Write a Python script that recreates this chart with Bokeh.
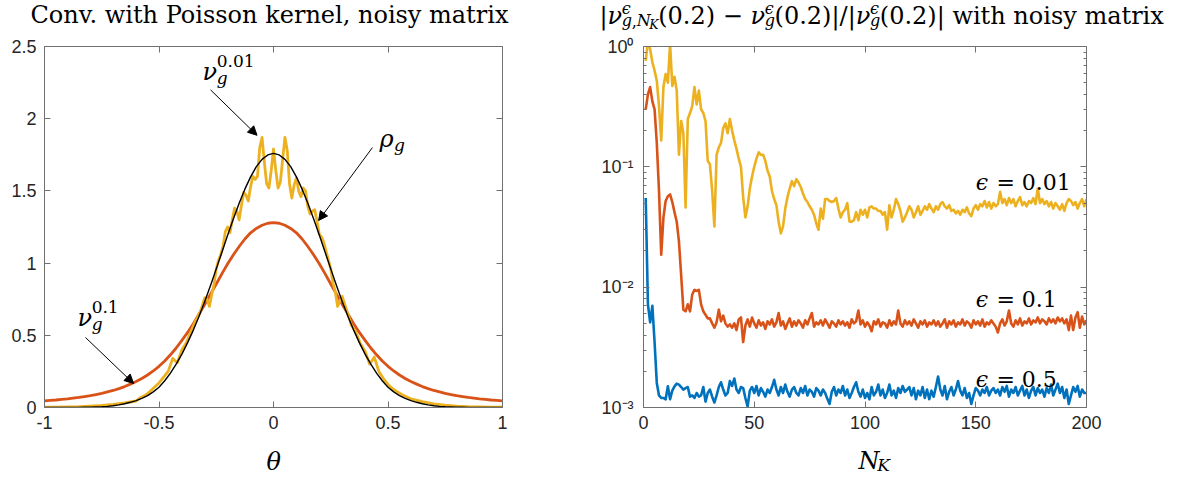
from bokeh.plotting import figure
from bokeh.layouts import row, column
from bokeh.models import (Range1d, LinearAxis, LogAxis, FixedTicker, Label, Arrow,
                          NormalHead, CustomJSTickFormatter)
from bokeh.embed import file_html
from bokeh.resources import INLINE

# ---------------- data: left panel ----------------
theta_half = [round(0.025 * i, 3) for i in range(41)]          # 0 .. 1
rho_half = [1.760, 1.749, 1.718, 1.668, 1.597, 1.512, 1.415, 1.307, 1.194, 1.077,
            0.960, 0.845, 0.735, 0.632, 0.536, 0.449, 0.370, 0.300, 0.238, 0.185,
            0.140, 0.108, 0.082, 0.063, 0.048, 0.036, 0.026, 0.018, 0.012, 0.008,
            0.005, 0.0035, 0.0023, 0.0015, 0.001, 0.0006, 0.0004, 0.0002, 0.0001,
            0.0001, 0.0]
nu01_half = [1.280, 1.276, 1.262, 1.240, 1.210, 1.167, 1.115, 1.058, 0.995, 0.927,
             0.855, 0.785, 0.715, 0.647, 0.580, 0.520, 0.465, 0.412, 0.365, 0.322,
             0.285, 0.253, 0.225, 0.201, 0.180, 0.162, 0.145, 0.131, 0.118, 0.108,
             0.098, 0.090, 0.082, 0.076, 0.070, 0.065, 0.060, 0.056, 0.052, 0.049,
             0.046]

theta_y = ([round(-1.0 + 0.05 * i, 3) for i in range(9)] +
           [round(-0.58 + 0.02 * i, 3) for i in range(14)] +
           [round(-0.30 + 0.01 * i, 3) for i in range(61)] +
           [round(0.32 + 0.02 * i, 3) for i in range(14)] +
           [round(0.60 + 0.05 * i, 3) for i in range(9)])
nu001 = [0.002, 0.003, 0.004, 0.006, 0.010, 0.015, 0.022, 0.032, 0.045,
         0.07, 0.085, 0.11, 0.14, 0.17, 0.21, 0.25, 0.34, 0.31, 0.40, 0.45, 0.53, 0.60, 0.66,
         0.76, 0.75, 0.70, 0.78, 0.85, 0.96, 1.02, 1.06, 1.12, 1.22,
         1.25, 1.21, 1.30, 1.38, 1.36, 1.30, 1.40, 1.49, 1.47, 1.43,
         1.53, 1.60, 1.58, 1.60, 1.80, 1.87, 1.70, 1.55, 1.52, 1.64,
         1.79,
         1.64, 1.52, 1.56, 1.72, 1.87, 1.78, 1.55, 1.45, 1.54, 1.59,
         1.50, 1.46, 1.52, 1.50, 1.39, 1.34, 1.36, 1.37, 1.29, 1.20,
         1.18, 1.14, 1.08, 1.02, 0.96, 0.86, 0.80, 0.70, 0.74, 0.77,
         0.67, 0.57, 0.52, 0.44, 0.39, 0.30, 0.35, 0.25, 0.20, 0.16, 0.13, 0.11, 0.09, 0.075,
         0.06, 0.040, 0.025, 0.016, 0.010, 0.006, 0.004, 0.003, 0.002]

x_ticks_l = [-1, -0.5, 0, 0.5, 1]
y_ticks_l = [0, 0.5, 1, 1.5, 2, 2.5]

# ---------------- data: right panel ----------------
NK = list(range(1, 201))
err_001 = [0.76, 1.10, 0.95, 0.74, 0.63, 0.52, 0.32, 0.166, 0.46, 0.59,
           0.50, 1.05, 0.47, 0.56, 0.43, 0.126, 0.24, 0.19, 0.046, 0.25,
           0.28, 0.32, 0.46, 0.33, 0.43, 0.30, 0.28, 0.24, 0.112, 0.105,
           0.063, 0.032, 0.126, 0.145, 0.158, 0.21, 0.23, 0.19, 0.25, 0.20,
           0.166, 0.141, 0.117, 0.100, 0.056, 0.038, 0.047, 0.066, 0.083, 0.100,
           0.117, 0.132, 0.126, 0.126, 0.112, 0.093, 0.083, 0.063, 0.054, 0.048,
           0.035, 0.028, 0.032, 0.045, 0.056, 0.066, 0.076, 0.069, 0.079, 0.074,
           0.068, 0.060, 0.054, 0.051, 0.047, 0.044, 0.040, 0.034, 0.030, 0.045,
           0.037, 0.054, 0.054, 0.052, 0.051, 0.052, 0.055, 0.045, 0.038, 0.042,
           0.044, 0.050, 0.035, 0.035, 0.036, 0.042, 0.036, 0.044, 0.040, 0.044,
           0.038, 0.046, 0.047, 0.045, 0.045, 0.043, 0.043, 0.040, 0.042, 0.030,
           0.048, 0.038, 0.044, 0.054, 0.049, 0.043, 0.035, 0.038, 0.042, 0.047,
           0.044, 0.038, 0.042, 0.047, 0.040, 0.043, 0.047, 0.044, 0.049, 0.045,
           0.042, 0.047, 0.044, 0.049, 0.051, 0.047, 0.045, 0.048, 0.043, 0.044,
           0.041, 0.043, 0.040, 0.044, 0.042, 0.046, 0.041, 0.039, 0.045, 0.048,
           0.044, 0.049, 0.047, 0.052, 0.046, 0.051, 0.045, 0.050, 0.047, 0.049,
           0.062, 0.050, 0.054, 0.048, 0.055, 0.050, 0.054, 0.047, 0.052, 0.056,
           0.048, 0.051, 0.047, 0.052, 0.050, 0.055, 0.049, 0.066, 0.050, 0.054,
           0.049, 0.052, 0.047, 0.051, 0.045, 0.050, 0.047, 0.044, 0.049, 0.043,
           0.050, 0.054, 0.052, 0.048, 0.051, 0.045, 0.050, 0.054, 0.047, 0.054]
err_01 = [0.30, 0.40, 0.46, 0.35, 0.30, 0.158, 0.063, 0.0186, 0.038, 0.052,
          0.057, 0.059, 0.051, 0.042, 0.035, 0.024, 0.0126, 0.0065, 0.0063, 0.0072,
          0.0063, 0.0087, 0.0095, 0.0093, 0.0095, 0.0072, 0.0063, 0.0059, 0.0055, 0.0055,
          0.0050, 0.0046, 0.0051, 0.0065, 0.0052, 0.0058, 0.0050, 0.0047, 0.0049, 0.0046,
          0.0050, 0.0044, 0.0054, 0.0056, 0.0035, 0.0048, 0.0054, 0.0047, 0.0056, 0.0050,
          0.0046, 0.0053, 0.0048, 0.0051, 0.0045, 0.0052, 0.0049, 0.0054, 0.0047, 0.0051,
          0.0061, 0.0048, 0.0052, 0.0045, 0.0050, 0.0055, 0.0047, 0.0052, 0.0048, 0.0053,
          0.0050, 0.0046, 0.0053, 0.0049, 0.0055, 0.0061, 0.0047, 0.0051, 0.0049, 0.0053,
          0.0048, 0.0054, 0.0050, 0.0046, 0.0052, 0.0050, 0.0047, 0.0053, 0.0049, 0.0052,
          0.0048, 0.0051, 0.0046, 0.0054, 0.0050, 0.0052, 0.0064, 0.0049, 0.0053, 0.0047,
          0.0051, 0.0048, 0.0043, 0.0052, 0.0049, 0.0054, 0.0047, 0.0051, 0.0050, 0.0046,
          0.0053, 0.0048, 0.0052, 0.0049, 0.0064, 0.0050, 0.0047, 0.0053, 0.0049, 0.0052,
          0.0048, 0.0054, 0.0050, 0.0046, 0.0052, 0.0049, 0.0053, 0.0047, 0.0051, 0.0049,
          0.0053, 0.0048, 0.0052, 0.0047, 0.0050, 0.0054, 0.0046, 0.0052, 0.0049, 0.0053,
          0.0047, 0.0051, 0.0049, 0.0054, 0.0048, 0.0052, 0.0050, 0.0046, 0.0053, 0.0049,
          0.0052, 0.0048, 0.0054, 0.0047, 0.0051, 0.0049, 0.0053, 0.0050, 0.0047, 0.0042,
          0.0050, 0.0054, 0.0048, 0.0052, 0.0064, 0.0050, 0.0047, 0.0053, 0.0049, 0.0055,
          0.0048, 0.0052, 0.0050, 0.0055, 0.0049, 0.0053, 0.0051, 0.0056, 0.0050, 0.0054,
          0.0052, 0.0049, 0.0055, 0.0051, 0.0054, 0.0050, 0.0056, 0.0052, 0.0055, 0.0050,
          0.0054, 0.0044, 0.0058, 0.0044, 0.0056, 0.0062, 0.0046, 0.0057, 0.0049, 0.0053]
err_05 = [0.055, 0.0072, 0.0051, 0.0070, 0.0035, 0.0016, 0.00126, 0.00120, 0.00120, 0.00117,
          0.00150, 0.00117, 0.00138, 0.00150, 0.00158, 0.00155, 0.00148, 0.00141, 0.00145, 0.00148,
          0.00123, 0.00126, 0.00120, 0.00132, 0.00123, 0.00126, 0.00148, 0.00112, 0.00132, 0.00141,
          0.00123, 0.00110, 0.00126, 0.00148, 0.00162, 0.00141, 0.00126, 0.00132, 0.00166, 0.00151,
          0.00174, 0.00141, 0.00132, 0.00148, 0.00145, 0.00120, 0.00102, 0.00138, 0.00148, 0.00132,
          0.00151, 0.00126, 0.00145, 0.00135, 0.00123, 0.00141, 0.00132, 0.00148, 0.00170, 0.00141,
          0.00126, 0.00148, 0.00132, 0.00155, 0.00135, 0.00123, 0.00141, 0.00148, 0.00132, 0.00126,
          0.00145, 0.00132, 0.00151, 0.00126, 0.00141, 0.00135, 0.00123, 0.00145, 0.00138, 0.00126,
          0.00141, 0.00132, 0.00118, 0.00107, 0.00135, 0.00148, 0.00126, 0.00141, 0.00132, 0.00151,
          0.00126, 0.00141, 0.00120, 0.00132, 0.00148, 0.00162, 0.00135, 0.00123, 0.00141, 0.00120,
          0.00132, 0.00117, 0.00148, 0.00126, 0.00135, 0.00155, 0.00126, 0.00141, 0.00120, 0.00132,
          0.00155, 0.00126, 0.00138, 0.00120, 0.00145, 0.00132, 0.00151, 0.00135, 0.00141, 0.00148,
          0.00126, 0.00145, 0.00117, 0.00138, 0.00126, 0.00148, 0.00120, 0.00141, 0.00117, 0.00138,
          0.00123, 0.00148, 0.00181, 0.00141, 0.00126, 0.00151, 0.00117, 0.00135, 0.00148, 0.00126,
          0.00141, 0.00166, 0.00138, 0.00126, 0.00145, 0.00120, 0.00132, 0.00107, 0.00126, 0.00145,
          0.00138, 0.00126, 0.00141, 0.00132, 0.00148, 0.00126, 0.00138, 0.00145, 0.00132, 0.00141,
          0.00126, 0.00148, 0.00135, 0.00151, 0.00123, 0.00141, 0.00132, 0.00148, 0.00126, 0.00138,
          0.00151, 0.00126, 0.00141, 0.00120, 0.00138, 0.00148, 0.00126, 0.00145, 0.00132, 0.00141,
          0.00123, 0.00145, 0.00132, 0.00155, 0.00126, 0.00141, 0.00158, 0.00132, 0.00148, 0.00120,
          0.00141, 0.00107, 0.00126, 0.00148, 0.00135, 0.00151, 0.00123, 0.00141, 0.00132, 0.00132]

x_ticks_r = [0, 50, 100, 150, 200]
y_ticks_r = [0.001, 0.01, 0.1, 1]
y_labels_r = ["10\u207b\u00b3", "10\u207b\u00b2", "10\u207b\u00b9", "10\u2070"]
y_minor_r = [m * d for d in (0.001, 0.01, 0.1) for m in range(2, 10)]

# ---------------- style ----------------
BLUE, ORANGE, YELLOW = "#0072BD", "#D95319", "#EDB120"
SERIF = "DejaVu Serif"
SANS = "Liberation Sans"
AXC = "#707070"
TXT = "#262626"
BASE_DY = 7   # raise text so that the given y is the visual baseline

EM = {'|': 0.337, 'ν': 0.59, '(': 0.39, ')': 0.39, '0': 0.636, '1': 0.636, '2': 0.636,
      '5': 0.636, '.': 0.318, '−': 0.838, '=': 0.838, ' ': 0.318, '/': 0.337, 'ϵ': 0.62,
      'g': 0.62, ',': 0.318, 'N': 0.78, 'K': 0.72, 'w': 0.86, 'i': 0.32, 't': 0.40,
      'h': 0.64, 'n': 0.64, 'o': 0.60, 's': 0.51, 'y': 0.57, 'm': 0.95, 'a': 0.60,
      'r': 0.48, 'x': 0.57, 'ρ': 0.60, 'θ': 0.60}


def tw(s, size):
    return size * sum(EM.get(c, 0.6) for c in s)


def put(p, x, y, txt, size, italic=False, dx=0.0, dy=0.0):
    lead = len(txt) - len(txt.lstrip(" "))
    if lead:
        dx += tw(" " * lead, size)
        txt = txt.lstrip(" ")
    p.add_layout(Label(x=x, y=y, x_offset=dx, y_offset=dy + BASE_DY, text=txt, text_font=SERIF,
                       text_font_size=f"{size}px",
                       text_font_style="italic" if italic else "normal",
                       text_color="black", text_baseline="alphabetic", text_align="left"))


def compose(p, x, y, items, k=1.0):
    cx = 0.0
    for it in items:
        if it[0] == "t":
            _, txt, size, ital = it
            put(p, x, y, txt, size, ital, dx=cx)
            cx += k * tw(txt, size)
        else:
            _, sup, subs = it
            wsup = 0.0
            if sup:
                put(p, x, y, sup[0], sup[1], sup[2], dx=cx, dy=sup[3])
                wsup = k * tw(sup[0], sup[1])
            sx = cx
            for (txt, size, ital, dy) in subs:
                put(p, x, y, txt, size, ital, dx=sx, dy=dy)
                sx += k * tw(txt, size)
            cx = max(cx + wsup, sx)
    return cx


def style_axes(p, xt, yt, ystand, log=False):
    for ax in (p.xaxis[0], p.yaxis[0]):
        ax.axis_line_color = AXC
        ax.major_tick_line_color = AXC
        ax.minor_tick_line_color = AXC
        ax.major_tick_in = 6
        ax.major_tick_out = 0
        ax.minor_tick_in = 3
        ax.minor_tick_out = 0
        ax.major_label_text_font = SANS
        ax.major_label_text_font_size = "18px"
        ax.major_label_text_color = TXT
    p.xaxis[0].major_label_standoff = 8
    p.yaxis[0].major_label_standoff = ystand
    blank = CustomJSTickFormatter(code="return ''")
    top = LinearAxis(ticker=FixedTicker(ticks=xt), formatter=blank)
    if log:
        right = LogAxis(ticker=FixedTicker(ticks=yt, minor_ticks=y_minor_r), formatter=blank)
    else:
        right = LinearAxis(ticker=FixedTicker(ticks=yt), formatter=blank)
    for ax in (top, right):
        ax.axis_line_color = AXC
        ax.major_tick_line_color = AXC
        ax.minor_tick_line_color = AXC
        ax.major_tick_in = 6
        ax.major_tick_out = 0
        ax.minor_tick_in = 3
        ax.minor_tick_out = 0
        ax.major_label_standoff = 0
        ax.major_label_text_font_size = "1px"
    p.add_layout(top, "above")
    p.add_layout(right, "right")
    p.xgrid.grid_line_color = None
    p.ygrid.grid_line_color = None
    p.outline_line_color = None


def strip(w, h):
    s = figure(width=w, height=h, x_range=Range1d(0, w), y_range=Range1d(0, h),
               output_backend="svg", toolbar_location=None, min_border=0,
               x_axis_location=None, y_axis_location=None)
    s.xgrid.grid_line_color = None
    s.ygrid.grid_line_color = None
    s.outline_line_color = None
    return s


W1, W2 = 598, 574
HT, HP, HB = 36, 406, 35

# ---------------- left panel ----------------
p1 = figure(width=W1, height=HP, x_range=Range1d(-1, 1), y_range=Range1d(0, 2.5),
            output_backend="svg", toolbar_location=None,
            min_border_left=44, min_border_right=96, min_border_top=10, min_border_bottom=35)
p1.xaxis.ticker = FixedTicker(ticks=x_ticks_l)
p1.yaxis.ticker = FixedTicker(ticks=y_ticks_l)
p1.xaxis.formatter = CustomJSTickFormatter(code="return tick.toString()")
p1.yaxis.formatter = CustomJSTickFormatter(code="return tick.toString()")
style_axes(p1, x_ticks_l, y_ticks_l, 8)

theta_full = [-t for t in theta_half[::-1]] + theta_half[1:]
rho_full = rho_half[::-1] + rho_half[1:]
nu01_full = nu01_half[::-1] + nu01_half[1:]

p1.line(theta_full, nu01_full, line_color=ORANGE, line_width=2.8, line_join="round")
p1.line(theta_y, nu001, line_color=YELLOW, line_width=2.8, line_join="round")
p1.line(theta_full, rho_full, line_color="black", line_width=1.4, line_join="round")

for (xs, ys, xe, ye) in [(-0.275, 2.20, -0.072, 1.885), (0.432, 1.80, 0.197, 1.295),
                         (-0.821, 0.485, -0.611, 0.166)]:
    p1.add_layout(Arrow(end=NormalHead(size=9, fill_color="black", line_color="black"),
                        x_start=xs, y_start=ys, x_end=xe, y_end=ye,
                        line_color="black", line_width=1))

compose(p1, -0.310, 2.278, [("t", "ν", 24, True),
                            ("s", ("0.01", 17, False, 11), [("g", 17, True, -6)])])
compose(p1, 0.463, 1.814, [("t", "ρ", 24, True), ("s", None, [("g", 17, True, -6)])])
compose(p1, -0.856, 0.568, [("t", "ν", 24, True),
                            ("s", ("0.1", 17, False, 11), [("g", 17, True, -6)])])

# ---------------- right panel ----------------
p2 = figure(width=W2, height=HP, x_range=Range1d(0, 200), y_range=Range1d(0.001, 1),
            y_axis_type="log", output_backend="svg", toolbar_location=None,
            min_border_left=44, min_border_right=86, min_border_top=10, min_border_bottom=35)
p2.xaxis.ticker = FixedTicker(ticks=x_ticks_r)
p2.xaxis.formatter = CustomJSTickFormatter(code="return tick.toString()")
p2.yaxis.ticker = FixedTicker(ticks=y_ticks_r, minor_ticks=y_minor_r)
p2.yaxis.formatter = CustomJSTickFormatter(
    args=dict(vals=y_ticks_r, labs=y_labels_r),
    code="for (let i = 0; i < vals.length; i++) { if (Math.abs(Math.log10(tick) - Math.log10(vals[i])) < 1e-6) return labs[i]; } return '';")
style_axes(p2, x_ticks_r, y_ticks_r, 10, log=True)

p2.line(NK, err_001, line_color=YELLOW, line_width=2.6, line_join="round")
p2.line(NK, err_01, line_color=ORANGE, line_width=2.6, line_join="round")
p2.line(NK, err_05, line_color=BLUE, line_width=2.6, line_join="round")

compose(p2, 150.0, 0.0648, [("t", "ϵ", 22, True), ("t", " = 0.01", 22, False)])
compose(p2, 150.0, 0.0069, [("t", "ϵ", 22, True), ("t", " = 0.1", 22, False)])
compose(p2, 150.0, 0.00149, [("t", "ϵ", 22, True), ("t", " = 0.5", 22, False)])

# ---------------- title strips ----------------
t1 = strip(W1, HT)
put(t1, 30, 15, "Conv. with Poisson kernel, noisy matrix", 24)

t2 = strip(W2, HT)
S, s1, s2 = 24, 16, 12.5
title_items = [("t", "|", S, False), ("t", "ν", S, True),
               ("s", ("ϵ", s1, True, 7), [("g", s1, True, -5), (",", s1, False, -5),
                                          ("N", s1, True, -5), ("K", s2, True, -9)]),
               ("t", "(0.2) − ", S, False), ("t", "ν", S, True),
               ("s", ("ϵ", s1, True, 7), [("g", s1, True, -5)]),
               ("t", "(0.2)|/|", S, False), ("t", "ν", S, True),
               ("s", ("ϵ", s1, True, 7), [("g", s1, True, -5)]),
               ("t", "(0.2)| with noisy matrix", S, False)]
compose(t2, 1, 14, title_items)

# ---------------- x-label strips ----------------
b1 = strip(W1, HB)
put(b1, 266, 9, "θ", 24, True)
b2 = strip(W2, HB)
compose(b2, 260, 10, [("t", "N", 24, True), ("s", None, [("K", 17, True, -4)])])

layout = column(row(t1, t2), row(p1, p2), row(b1, b2))
open("out.html", "w").write(file_html(layout, INLINE))
